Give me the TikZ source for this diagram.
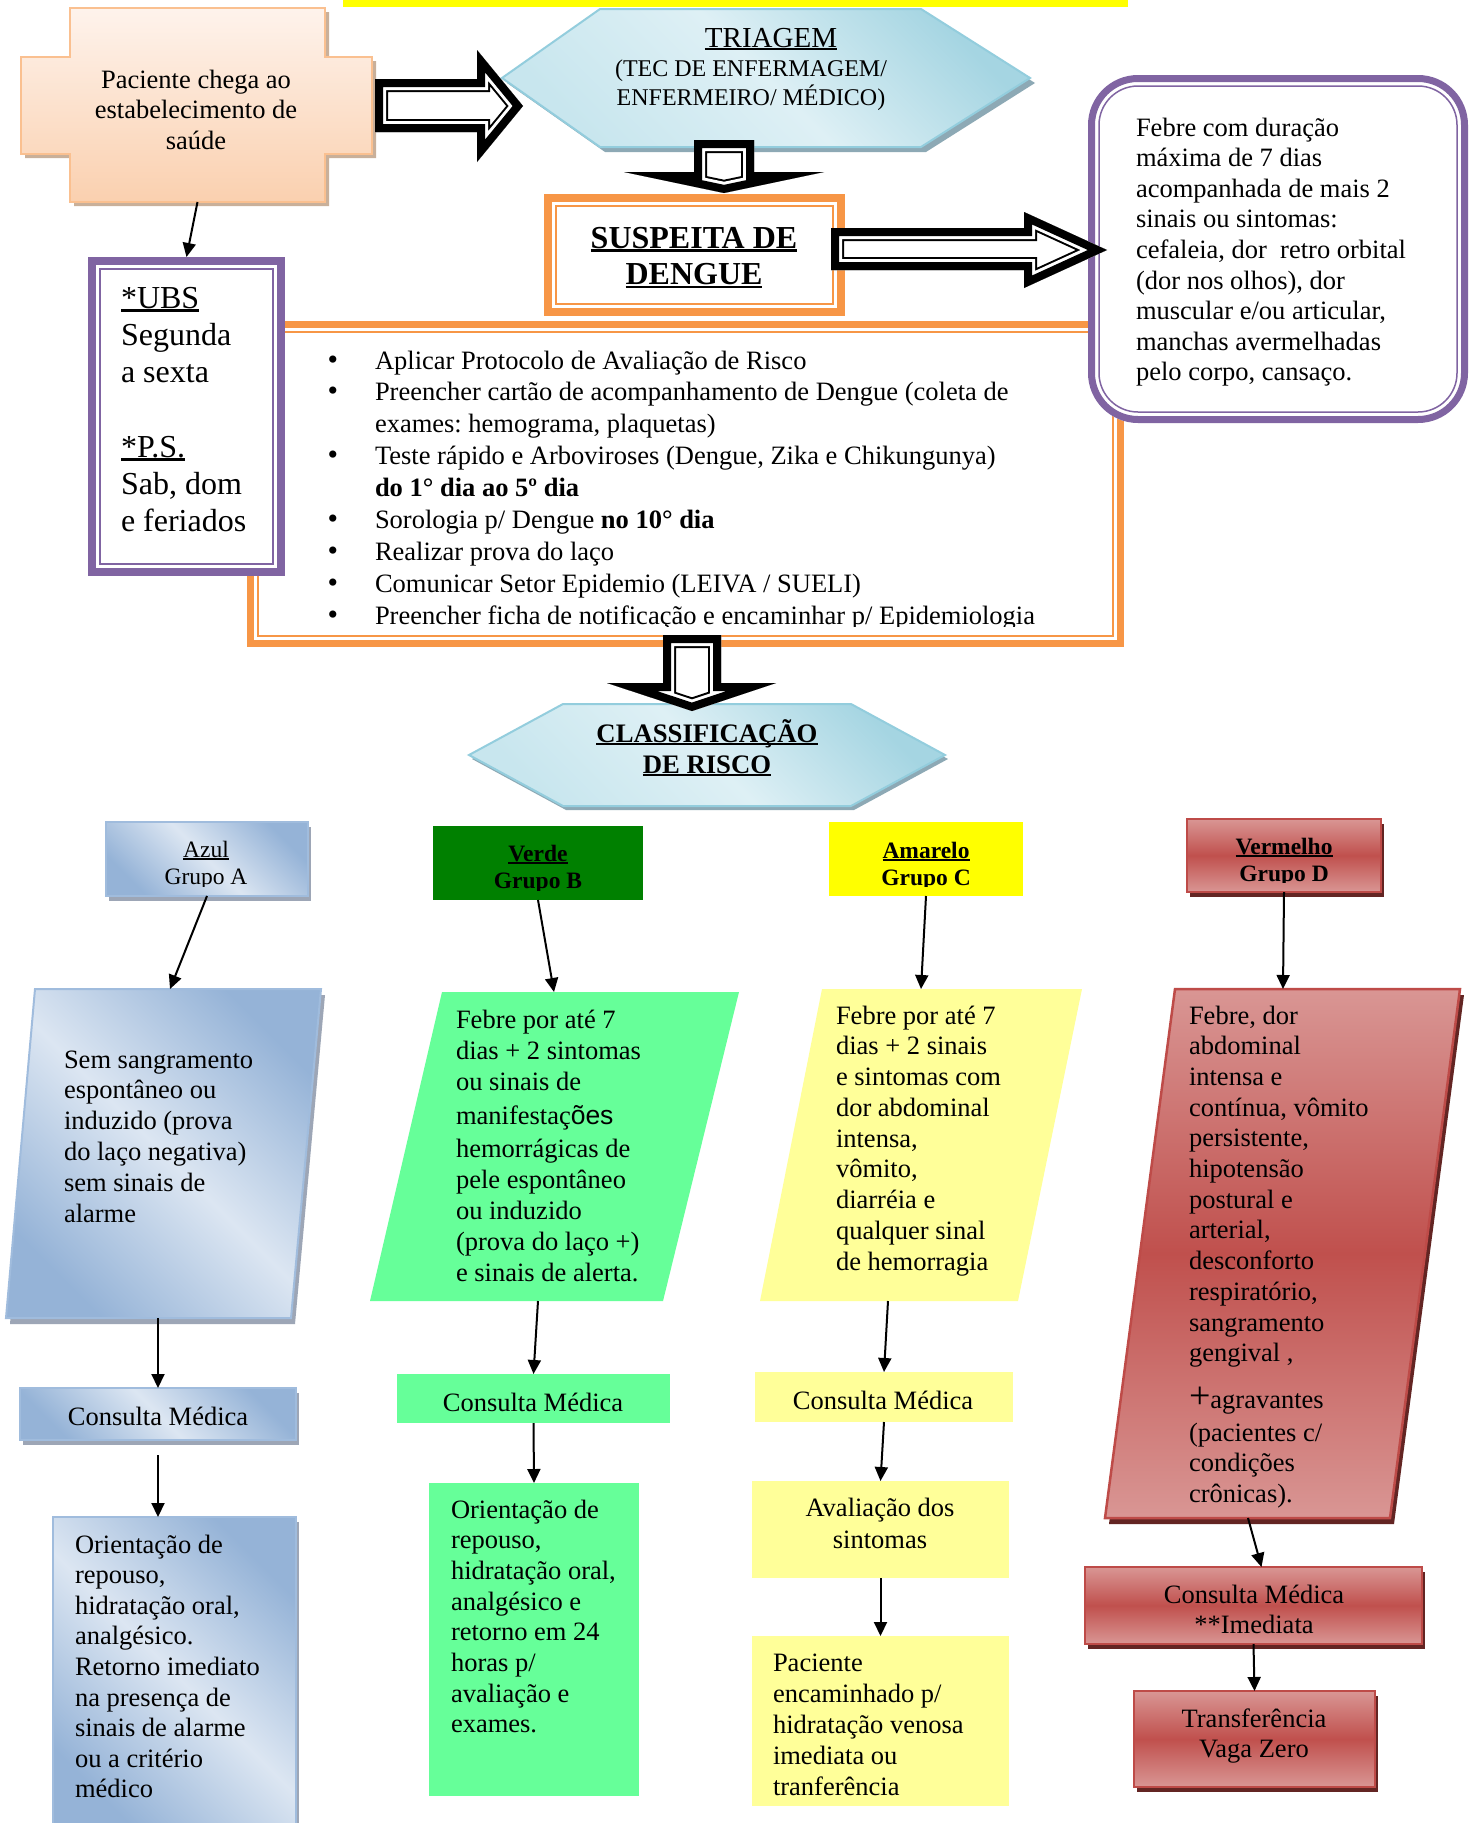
\documentclass[tikz,border=0pt]{standalone}
\usepackage{fontspec}
\setmainfont{Liberation Serif}
\newfontfamily\sansf{Liberation Sans}
\usetikzlibrary{arrows.meta,calc}
\frenchspacing
\definecolor{orangeB}{HTML}{F79646}
\definecolor{purpleB}{HTML}{8064A2}
\definecolor{peachL}{HTML}{FEF3EC}
\definecolor{peachD}{HTML}{FAD0AF}
\definecolor{peachE}{HTML}{FAC090}
\definecolor{peachS}{HTML}{C9B09A}
\definecolor{aquaL}{HTML}{DEF0F5}
\definecolor{aquaM}{HTML}{C8E6EE}
\definecolor{aquaD}{HTML}{A5D5E2}
\definecolor{aquaE}{HTML}{93CDDD}
\definecolor{aquaS}{HTML}{8DA9B5}
\definecolor{blueL}{HTML}{DCE6F2}
\definecolor{blueD}{HTML}{95B3D7}
\definecolor{blueE}{HTML}{A0BCDD}
\definecolor{blueS}{HTML}{9DA6B6}
\definecolor{greenD}{HTML}{008000}
\definecolor{greenL}{HTML}{66FF99}
\definecolor{yellowD}{HTML}{FFFF00}
\definecolor{yellowL}{HTML}{FFFF99}
\definecolor{redL}{HTML}{D99694}
\definecolor{redD}{HTML}{C0504D}
\definecolor{redE}{HTML}{BE4B48}
\definecolor{redS}{HTML}{632523}
\newsavebox\ulbox
\newcommand\undl[1]{\sbox\ulbox{#1}\makebox[0pt][l]{\rule[-0.11em]{\wd\ulbox}{0.07em}}\usebox\ulbox}
\newcommand\fbody{\fontsize{26.5}{30.6}\selectfont\frenchspacing}
\newcommand\bul{{\fontsize{30}{30}\selectfont\textbullet}\hspace{37pt}}
\newcommand\tl[1]{\begin{tabular}[t]{@{}l@{}}#1\end{tabular}}
\newcommand\tc[1]{\begin{tabular}[t]{@{}c@{}}#1\end{tabular}}
\newcommand\hollowarrow[1]{%
  \begin{scope}
    \clip #1;
    \fill[white] #1;
    \draw[line width=26pt, line join=miter] #1;
    \draw[white, line width=22pt, line join=miter] #1;
    \draw[line width=16pt, line join=miter] #1;
  \end{scope}}
\begin{document}
\begin{tikzpicture}[x=1pt, y=-1pt,
  txt/.style={inner sep=0pt, outer sep=0pt, font=\fbody, anchor=base west},
  ctxt/.style={inner sep=0pt, outer sep=0pt, font=\fbody, anchor=base},
  conn/.style={draw=black, line width=2pt, -{Triangle[length=14pt,width=13pt]}},
  rbox/.style={inner sep=0pt, outer sep=0pt, anchor=north west},
  azulfill/.style={top color=blueD, bottom color=blueD, middle color=blueL, shading angle=-45},
  redfill/.style={top color=redL, bottom color=redL, middle color=redD},
  aquafill/.style={top color=aquaD, bottom color=aquaM, middle color=aquaL, shading angle=-45},
]
\useasboundingbox (0,0) rectangle (1477,1823);
\fill[white] (0,0) rectangle (1477,1823);

% yellow bar
\fill[yellowD] (343,0) rectangle (1128,7);

% cross: Paciente chega
\fill[peachS] (74,12)--(329,12)--(329,61)--(376,61)--(376,158)--(329,158)--(329,206)--(74,206)--(74,158)--(25,158)--(25,61)--(74,61)--cycle;
\shadedraw[top color=peachL, bottom color=peachD, draw=peachE, line width=2pt] (70,8)--(325,8)--(325,57)--(372,57)--(372,154)--(325,154)--(325,202)--(70,202)--(70,154)--(21,154)--(21,57)--(70,57)--cycle;
\node[rbox, minimum width=255pt, minimum height=194pt] (crossv) at (70,8) {};
\node[ctxt] (tPac) at (196,88) {\tc{Paciente chega ao\\estabelecimento de\\saúde}};

% TRIAGEM hexagon
\fill[aquaS] (605,14)--(926,14)--(1035,83)--(926,152)--(605,152)--(507,83)--cycle;
\shadedraw[aquafill, draw=aquaE, line width=2pt] (600,9)--(921,9)--(1030,78)--(921,147)--(600,147)--(502,78)--cycle;
\node[ctxt, font=\fontsize{29}{34}\selectfont] (tTri) at (771,47) {\undl{TRIAGEM}};
\node[ctxt, font=\fontsize{24}{29}\selectfont] (tTec) at (751,76) {\tc{(TEC DE ENFERMAGEM/\\ENFERMEIRO/ MÉDICO)}};

% bullet box
\node[rbox, fill=white, minimum width=877pt, minimum height=326pt] (bulbox) at (247,321) {};
\draw[orangeB, line width=7pt] (250.5,324.5) rectangle (1120.5,643.5);
\draw[orangeB, line width=2pt] (258,332) rectangle (1113,636);
\begin{scope}
\clip (258,332) rectangle (1113,626);
\node[txt, font=\fontsize{26.5}{31.9}\selectfont\frenchspacing] (tBul) at (375,369) {\tl{\llap{\bul}Aplicar Protocolo de Avaliação de Risco\\
\llap{\bul}Preencher cartão de acompanhamento de Dengue (coleta de\\
exames: hemograma, plaquetas)\\
\llap{\bul}Teste rápido e Arboviroses (Dengue, Zika e Chikungunya)\\
\textbf{do 1° dia ao 5º dia}\\
\llap{\bul}Sorologia p/ Dengue \textbf{no 10° dia}\\
\llap{\bul}Realizar prova do laço\\
\llap{\bul}Comunicar Setor Epidemio (LEIVA / SUELI)\\
\llap{\bul}Preencher ficha de notificação e encaminhar p/ Epidemiologia}};
\end{scope}

% UBS box
\node[rbox, fill=white, minimum width=197pt, minimum height=319pt] (ubs) at (88,257) {};
\draw[purpleB, line width=8pt] (92,261) rectangle (281,572);
\draw[purpleB, line width=2pt] (100,269) rectangle (273,564);
\node[txt, font=\fontsize{32}{37.3}\selectfont] (tUbs) at (121,308) {\tl{\undl{*UBS}\\Segunda\\a sexta\\[37.3pt]\undl{*P.S.}\\Sab, dom\\e feriados}};

% Suspeita box
\node[rbox, fill=white, minimum width=301pt, minimum height=122pt] (sus) at (544,194) {};
\draw[orangeB, line width=8pt] (548,198) rectangle (841,312);
\draw[orangeB, line width=2pt] (556,206) rectangle (833,304);
\node[ctxt, font=\bfseries\fontsize{32}{36.5}\selectfont] (tSus) at (694,248) {\tc{\undl{SUSPEITA DE}\\\undl{DENGUE}}};

% Febre box
\node[rbox, minimum width=380pt, minimum height=348pt] (feb) at (1088,75) {};
\fill[white, rounded corners=50pt] (1088,75) rectangle (1468,423);
\draw[purpleB, line width=7pt, rounded corners=46.5pt] (1091.5,78.5) rectangle (1464.5,419.5);
\draw[purpleB, line width=1.5pt, rounded corners=39pt] (1099,86) rectangle (1457,412);
\node[txt] (tFeb) at (1136,136) {\tl{Febre com duração\\máxima de 7 dias\\acompanhada de mais 2\\sinais ou sintomas:\\cefaleia, dor\hspace{0.5em}retro orbital\\(dor nos olhos), dor\\muscular e/ou articular,\\manchas avermelhadas\\pelo corpo, cansaço.}};

% block arrows (top)
\hollowarrow{(375,79)--(477,79)--(477,50)--(523,106)--(477,162)--(477,132)--(375,132)--cycle}
\hollowarrow{(694,140)--(754,140)--(754,172)--(824,172)--(724,193)--(624,172)--(694,172)--cycle}
\hollowarrow{(831,228)--(1024,228)--(1024,212)--(1107,250)--(1024,288)--(1024,270)--(831,270)--cycle}

% Classificacao hexagon
\fill[aquaS] (566,708)--(854,708)--(948,759)--(854,810)--(566,810)--(472,759)--cycle;
\shadedraw[aquafill, draw=aquaE, line width=2pt] (563,704)--(851,704)--(945,755)--(851,806)--(563,806)--(469,755)--cycle;
\node[ctxt, font=\bfseries\fontsize{26.7}{31}\selectfont] (tCla) at (707,742) {\tc{\undl{CLASSIFICAÇÃO}\\\undl{DE RISCO}}};
\hollowarrow{(663,635)--(721,635)--(721,683)--(776,683)--(692,711)--(607,683)--(663,683)--cycle}

% group headers
\fill[blueS] (109,827) rectangle (311,901);
\node[rbox, azulfill, draw=blueE, line width=2pt, minimum width=202pt, minimum height=74pt] (azulH) at (106,822) {};
\begin{scope}\clip (106,822) rectangle (308,886);
\node[ctxt, font=\fontsize{23.5}{27.5}\selectfont] (tAzH) at (206,857) {\tc{\undl{Azul}\\Grupo A}};
\end{scope}

\node[rbox, fill=greenD, minimum width=210pt, minimum height=74pt] (verdeH) at (433,826) {};
\begin{scope}\clip (433,826) rectangle (643,890);
\node[ctxt, font=\bfseries\fontsize{23.5}{27.5}\selectfont] (tVeH) at (538,861) {\tc{\undl{Verde}\\Grupo B}};
\end{scope}

\node[rbox, fill=yellowD, minimum width=194pt, minimum height=74pt] (amareloH) at (829,822) {};
\begin{scope}\clip (829,822) rectangle (1023,886);
\node[ctxt, font=\bfseries\fontsize{23.5}{27.5}\selectfont] (tAmH) at (926,858) {\tc{\undl{Amarelo}\\Grupo C}};
\end{scope}

\fill[redS] (1190,824) rectangle (1384,897);
\node[rbox, redfill, draw=redE, line width=2pt, minimum width=194pt, minimum height=73pt] (vermH) at (1187,819) {};
\begin{scope}\clip (1187,819) rectangle (1381,882);
\node[ctxt, font=\bfseries\fontsize{23.5}{27.5}\selectfont] (tVmH) at (1284,854) {\tc{\undl{Vermelho}\\Grupo D}};
\end{scope}

% parallelograms
\fill[blueS] (39,995)--(325,995)--(295,1324)--(10,1324)--cycle;
\shadedraw[azulfill, draw=blueE, line width=2pt] (35,989)--(321,989)--(291,1318)--(6,1318)--cycle;
\coordinate (azulPtop) at (170,989);
\coordinate (azulPbot) at (158,1318);
\node[txt, font=\fontsize{26.5}{30.8}\selectfont] (tAzP) at (64,1068) {\tl{Sem sangramento\\espontâneo ou\\induzido (prova\\do laço negativa)\\sem sinais de\\alarme}};

\fill[greenL] (442,992)--(739,992)--(663,1301)--(370,1301)--cycle;
\coordinate (verdePtop) at (554,992);
\coordinate (verdePbot) at (538,1301);
\node[txt, font=\fontsize{26.5}{31}\selectfont] (tVeP) at (456,1028) {\tl{Febre por até 7\\dias + 2 sintomas\\ou sinais de\\[3pt]manifestaç{\sansf ões}\\[2pt]hemorrágicas de\\pele espontâneo\\ou induzido\\(prova do laço +)\\e sinais de alerta.}};

\fill[yellowL] (822,989)--(1082,989)--(1018,1301)--(760,1301)--cycle;
\coordinate (amareloPtop) at (921,989);
\coordinate (amareloPbot) at (888,1301);
\node[txt, font=\fontsize{26.5}{30.75}\selectfont] (tAmP) at (836,1024) {\tl{Febre por até 7\\dias + 2 sinais\\e sintomas com\\dor abdominal\\intensa,\\vômito,\\diarréia e\\qualquer sinal\\de hemorragia}};

\fill[redS] (1179,995)--(1464,995)--(1394,1524)--(1109,1524)--cycle;
\shadedraw[redfill, draw=redE, line width=2.5pt] (1175,989)--(1460,989)--(1390,1518)--(1105,1518)--cycle;
\coordinate (vermPtop) at (1283,989);
\coordinate (vermPbot) at (1248,1518);
\node[txt, font=\fontsize{26.5}{30.7}\selectfont] (tVmP) at (1189,1024) {\tl{Febre, dor\\abdominal\\intensa e\\contínua, vômito\\persistente,\\hipotensão\\postural e\\arterial,\\desconforto\\respiratório,\\sangramento\\gengival ,\\[15.7pt]{\fontsize{38}{38}\selectfont +}agravantes\\[2.3pt](pacientes c/\\condições\\crônicas).}};

% consulta boxes
\fill[blueS] (23,1393) rectangle (299,1445);
\node[rbox, azulfill, draw=blueE, line width=2pt, minimum width=276pt, minimum height=52pt] (azulC) at (20,1388) {};
\node[ctxt] (tAzC) at (158,1425) {Consulta Médica};

\node[rbox, fill=greenL, minimum width=273pt, minimum height=49pt] (verdeC) at (397,1374) {};
\node[ctxt] (tVeC) at (533,1411) {Consulta Médica};

\node[rbox, fill=yellowL, minimum width=258pt, minimum height=50pt] (amareloC) at (755,1372) {};
\node[ctxt] (tAmC) at (883,1409) {Consulta Médica};

\fill[redS] (1088,1572) rectangle (1425,1649);
\node[rbox, redfill, draw=redE, line width=2pt, minimum width=337pt, minimum height=77pt] (vermC) at (1085,1567) {};
\node[ctxt] (tVmC) at (1254,1603) {\tc{Consulta Médica\\\relax**Imediata}};

% lower boxes
\fill[blueS] (56,1522) rectangle (299,1835);
\node[rbox, azulfill, draw=blueE, line width=2pt, minimum width=243pt, minimum height=313pt] (azulO) at (53,1517) {};
\node[txt] (tAzO) at (75,1553) {\tl{Orientação de\\repouso,\\hidratação oral,\\analgésico.\\Retorno imediato\\na presença de\\sinais de alarme\\ou a critério\\médico}};

\node[rbox, fill=greenL, minimum width=210pt, minimum height=313pt] (verdeO) at (429,1483) {};
\node[txt, font=\fontsize{26.5}{30.7}\selectfont] (tVeO) at (451,1518) {\tl{Orientação de\\repouso,\\hidratação oral,\\analgésico e\\retorno em 24\\horas p/\\avaliação e\\exames.}};

\node[rbox, fill=yellowL, minimum width=257pt, minimum height=97pt] (amareloAv) at (752,1481) {};
\node[ctxt, font=\fontsize{26.5}{32}\selectfont] (tAmAv) at (880,1516) {\tc{Avaliação dos\\sintomas}};

\node[rbox, fill=yellowL, minimum width=257pt, minimum height=170pt] (amareloPac) at (752,1636) {};
\node[txt, font=\fontsize{26.5}{31}\selectfont] (tAmPac) at (773,1671) {\tl{Paciente\\encaminhado p/\\hidratação venosa\\imediata ou\\tranferência}};

\fill[redS] (1137,1696) rectangle (1378,1792);
\node[rbox, redfill, draw=redE, line width=2pt, minimum width=241pt, minimum height=96pt] (vermT) at (1134,1691) {};
\node[ctxt] (tVmT) at (1254,1727) {\tc{Transferência\\Vaga Zero}};

% connectors
\draw[conn] (crossv.south) -- (ubs.north);
\draw[conn] (azulH.south) -- (azulPtop);
\draw[conn] (verdeH.south) -- (verdePtop);
\draw[conn] (amareloH.south) -- (amareloPtop);
\draw[conn] (vermH.south) -- (vermPtop);
\draw[conn] (azulPbot) -- (azulC.north);
\draw[conn] ($(azulC.south)+(0,15)$) -- (azulC.south |- azulO.north);
\draw[conn] (verdePbot) -- (verdeC.north);
\draw[conn] (verdeC.south) -- (verdeO.north);
\draw[conn] (amareloPbot) -- (amareloC.north);
\draw[conn] (amareloC.south) -- (amareloAv.north);
\draw[conn] (amareloAv.south) -- (amareloPac.north);
\draw[conn] (vermPbot) -- ($(vermC.north)+(8,0)$);
\draw[conn] (vermC.south) -- (vermT.north);
\end{tikzpicture}
\end{document}
